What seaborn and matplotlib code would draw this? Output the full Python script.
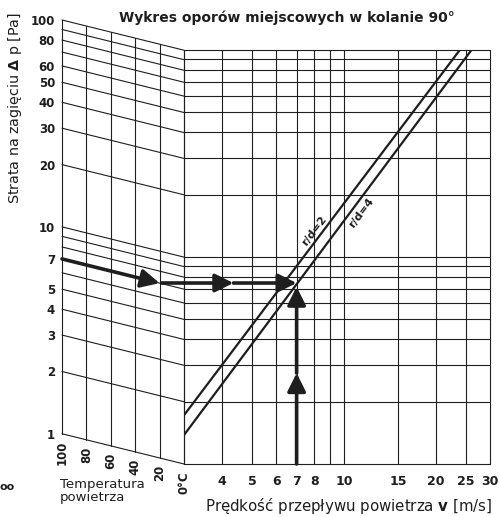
import matplotlib
matplotlib.use("Agg")
import matplotlib.pyplot as plt
import pandas as pd
import seaborn as sns
from matplotlib.ticker import NullLocator

# chart values
TITLE = "Wykres oporów miejscowych w kolanie 90°"
DP_LEVELS = [100, 90, 80, 70, 60, 50, 40, 30, 20, 10, 9, 8, 7, 6, 5, 4, 3, 2, 1]
DP_TICKS = [100, 80, 60, 50, 40, 30, 20, 10, 7, 5, 4, 3, 2, 1]
TEMPS = [100, 80, 60, 40, 20, 0]
TEMP_LABELS = ["100", "80", "60", "40", "20", "0°C"]
DP_SHIFT = 1.4  # loss ratio between the 100°C and the 0°C edge of the temperature panel
V_GRID = [3, 4, 5, 6, 7, 8, 9, 10, 15, 20, 25, 30]
V_TICKS = [4, 5, 6, 7, 8, 10, 15, 20, 25, 30]
CURVE_NAMES = ["r/d=2", "r/d=4"]
CURVE_V = [[3, 23.9], [3, 26.1]]
CURVE_DP = [[1.72, 100], [1.38, 100]]
CURVE_LABEL_V = [8.0, 11.4]
CURVE_LABEL_DP = [13.4, 16.3]
EXAMPLE_DP = 7
EXAMPLE_T = 20
EXAMPLE_V = 7

INK = "#1e1e1e"
GRID_LW = 0.8
ARROW_LW = 2.6
ARROW_MID_V = 4.35
ARROW_MID_DP = 2.75
HEAD = "-|>,head_length=1.1,head_width=0.55"

W, H = 500, 517


def arrow(ax, start, end):
    ax.annotate("", xy=end, xytext=start,
                arrowprops=dict(arrowstyle=HEAD, lw=ARROW_LW, color=INK,
                                shrinkA=0, shrinkB=0, mutation_scale=10))


sns.set_style("white")
plt.rcParams["font.family"] = ["DejaVu Sans"]
plt.rcParams["mathtext.fontset"] = "dejavusans"

fig = plt.figure(figsize=(W / 100, H / 100), dpi=100)
ax_l = fig.add_axes([62 / W, 1 - 464 / H, 122 / W, 444 / H])
ax_r = fig.add_axes([184 / W, 1 - 464 / H, 306 / W, 414 / H])

# temperature panel
ax_l.set_yscale("log")
ax_l.set_xlim(100, 0)
ax_l.set_ylim(1 / DP_SHIFT, 100)
for d in DP_LEVELS:
    ax_l.plot([100, 0], [d, d / DP_SHIFT], color=INK, lw=GRID_LW, clip_on=False)
for t, lab in zip(TEMPS, TEMP_LABELS):
    frac = (100 - t) / 100
    lo = min(DP_LEVELS) * DP_SHIFT ** -frac
    hi = max(DP_LEVELS) * DP_SHIFT ** -frac
    ax_l.plot([t, t], [lo, hi], color=INK, lw=GRID_LW, clip_on=False)
    ax_l.annotate(lab, xy=(t, lo), xytext=(0, -5), textcoords="offset points",
                  rotation=90, ha="center", va="top", fontsize=8.5,
                  fontweight="bold", color=INK)
ax_l.set_yticks(DP_TICKS, labels=[str(d) for d in DP_TICKS])
ax_l.yaxis.set_minor_locator(NullLocator())
ax_l.set_xticks([])
ax_l.tick_params(axis="y", length=0, pad=5, labelsize=8.5, labelcolor=INK)
for lab in ax_l.get_yticklabels():
    lab.set_fontweight("bold")
for s in ax_l.spines.values():
    s.set_visible(False)
ax_l.patch.set_alpha(0)

# velocity panel
ax_r.set_xscale("log")
ax_r.set_yscale("log")
ax_r.set_xlim(3, 30)
ax_r.set_ylim(1, 100)
for v in V_GRID:
    ax_r.plot([v, v], [1, 100], color=INK, lw=GRID_LW, clip_on=False)
for d in DP_LEVELS:
    ax_r.plot([3, 30], [d, d], color=INK, lw=GRID_LW, clip_on=False)

curves = pd.DataFrame({
    "v": [x for xs in CURVE_V for x in xs],
    "dp": [y for ys in CURVE_DP for y in ys],
    "curve": [n for n, xs in zip(CURVE_NAMES, CURVE_V) for _ in xs],
})
sns.lineplot(data=curves, x="v", y="dp", hue="curve",
             palette={n: INK for n in CURVE_NAMES}, lw=1.6, legend=False,
             estimator=None, sort=False, ax=ax_r)
for name, lv, ld in zip(CURVE_NAMES, CURVE_LABEL_V, CURVE_LABEL_DP):
    ax_r.text(lv, ld, name, rotation=53, fontsize=8, fontweight="bold",
              color=INK, ha="center", va="center")

ax_r.set_xticks(V_TICKS, labels=[str(v) for v in V_TICKS])
ax_r.xaxis.set_minor_locator(NullLocator())
ax_r.yaxis.set_minor_locator(NullLocator())
ax_r.set_yticks([])
ax_r.tick_params(axis="x", length=0, pad=8, labelsize=9, labelcolor=INK)
for lab in ax_r.get_xticklabels():
    lab.set_fontweight("bold")
ax_r.set_xlabel("")
ax_r.set_ylabel("")
for s in ax_r.spines.values():
    s.set_visible(False)
ax_r.patch.set_alpha(0)

# example reading path
frac = (100 - EXAMPLE_T) / 100
level_l = EXAMPLE_DP * DP_SHIFT ** -frac
level_r = level_l * DP_SHIFT
arrow(ax_l, (100, EXAMPLE_DP), (EXAMPLE_T, level_l))
ax_l.plot([EXAMPLE_T, 0], [level_l, level_l], color=INK, lw=ARROW_LW,
          solid_capstyle="butt", clip_on=False)
arrow(ax_r, (3, level_r), (ARROW_MID_V, level_r))
arrow(ax_r, (ARROW_MID_V, level_r), (EXAMPLE_V, level_r))
arrow(ax_r, (EXAMPLE_V, 1), (EXAMPLE_V, ARROW_MID_DP))
arrow(ax_r, (EXAMPLE_V, ARROW_MID_DP), (EXAMPLE_V, level_r * 0.96))

# texts
fig.text(287 / W, 1 - 18 / H, TITLE, ha="center", va="center",
         fontsize=10, fontweight="bold", color=INK)
fig.text(15 / W, 1 - 12 / H, r"Strata na zagięciu $\mathbf{\Delta}$ p [Pa]",
         rotation=90, ha="center", va="top", fontsize=10.3, color=INK)
fig.text(492 / W, 1 - 511 / H, r"Prędkość przepływu powietrza $\mathbf{v}$ [m/s]",
         ha="right", va="baseline", fontsize=10.8, color=INK)
fig.text(60 / W, 1 - 478 / H, "Temperatura\npowietrza", ha="left", va="top",
         fontsize=9.5, color=INK, linespacing=1.05)
fig.text(0, 1 - 490 / H, "oo", ha="left", va="baseline",
         fontsize=8, fontweight="bold", color=INK)

fig.savefig("out.png", dpi=100)
